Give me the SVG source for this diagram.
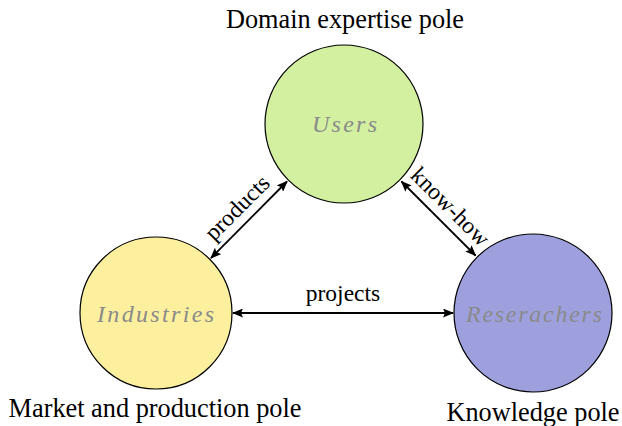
<svg xmlns="http://www.w3.org/2000/svg" width="622" height="426" viewBox="0 0 622 426">
<style>
.node{stroke:#000;stroke-width:1.2}
.lbl{font-family:"Liberation Serif","Times New Roman",serif;font-size:23.5px;fill:#000;text-anchor:middle}
.pole{font-family:"Liberation Serif","Times New Roman",serif;font-size:26.3px;fill:#000;text-anchor:middle}
.inner{font-family:"Liberation Serif","Times New Roman",serif;font-style:italic;font-size:24px;fill:#8a8a8a;text-anchor:middle}
.edge{stroke:#000;stroke-width:1.8;fill:none;marker-start:url(#ah);marker-end:url(#ah)}
</style>
<defs>
<marker id="ah" viewBox="0 0 11 9" refX="10" refY="4.5" markerWidth="11" markerHeight="9" markerUnits="userSpaceOnUse" orient="auto-start-reverse">
<path d="M0,0 L11,4.5 L0,9 L2,4.5 Z" fill="#000"/>
</marker>
</defs>
<g id="users">
<circle class="node" cx="344" cy="124" r="79" fill="#d2f0a0"/>
<text class="inner" x="344.5" y="132" textLength="65" lengthAdjust="spacing">Users</text>
<text class="pole" x="345" y="28">Domain expertise pole</text>
</g>
<g id="industries">
<circle class="node" cx="156" cy="313" r="76" fill="#fcef9e"/>
<text class="inner" x="155.5" y="322" textLength="117" lengthAdjust="spacing">Industries</text>
<text class="pole" x="155" y="417">Market and production pole</text>
</g>
<g id="researchers">
<circle class="node" cx="533" cy="313" r="79" fill="#9ea0dd"/>
<text class="inner" x="534" y="322" textLength="136" lengthAdjust="spacing">Reserachers</text>
<text class="pole" x="533" y="421">Knowledge pole</text>
</g>
<g id="connectors">
<line class="edge" x1="211" y1="258" x2="287" y2="181.5"/>
<line class="edge" x1="401.5" y1="181.5" x2="475.5" y2="255.5"/>
<line class="edge" x1="233" y1="313" x2="453" y2="313"/>
<text class="lbl" transform="translate(249,219.5) rotate(-45)" x="0" y="-9">products</text>
<text class="lbl" transform="translate(438.5,218.5) rotate(45)" x="0" y="-9">know-how</text>
<text class="lbl" x="343" y="301">projects</text>
</g>
</svg>
